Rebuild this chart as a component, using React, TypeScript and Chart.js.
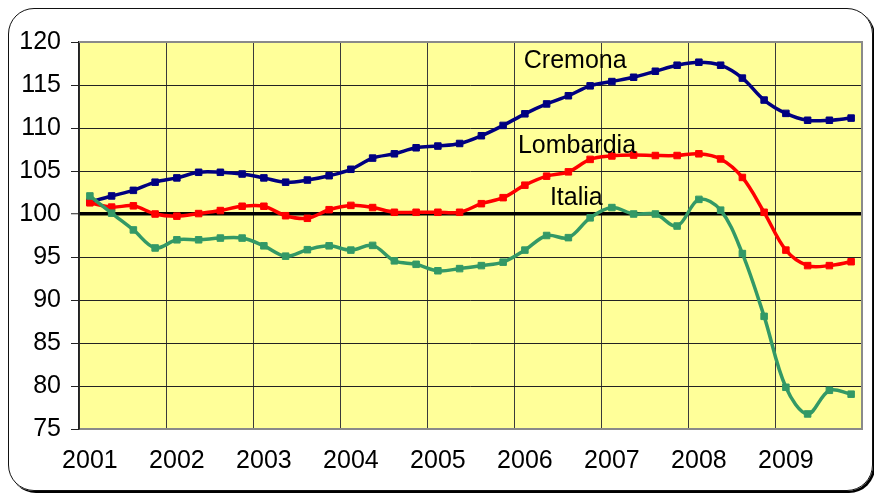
import React, { useEffect, useRef } from 'react';
import { Chart, registerables } from 'chart.js';

Chart.register(...registerables);

// ---- data ----
const years = ['2001', '2002', '2003', '2004', '2005', '2006', '2007', '2008', '2009'];
const quarters = ['T1', 'T2', 'T3', 'T4'];
const categories = years.flatMap((y) => quarters.map((q) => `${y} ${q}`));

const cremona = [
  101.4, 102.1, 102.75, 103.7, 104.2, 104.85, 104.85, 104.65, 104.2, 103.7, 103.95, 104.45,
  105.2, 106.5, 107.0, 107.7, 107.9, 108.2, 109.1, 110.3, 111.65, 112.8, 113.75, 114.9,
  115.4, 115.9, 116.6, 117.3, 117.65, 117.3, 115.8, 113.25, 111.7, 110.9, 110.9, 111.15,
];
const lombardia = [
  101.3, 100.8, 100.95, 100.0, 99.75, 100.05, 100.4, 100.9, 100.9, 99.8, 99.5, 100.5,
  101.0, 100.75, 100.2, 100.2, 100.2, 100.2, 101.2, 101.9, 103.35, 104.4, 104.9, 106.35,
  106.75, 106.85, 106.8, 106.8, 107.0, 106.4, 104.25, 100.2, 95.8, 94.0, 94.0, 94.45,
];
const italia = [
  102.1, 100.1, 98.15, 96.05, 97.0, 97.0, 97.2, 97.2, 96.3, 95.1, 95.85, 96.3,
  95.8, 96.35, 94.55, 94.15, 93.4, 93.65, 94.0, 94.4, 95.8, 97.5, 97.25, 99.55,
  100.75, 100.0, 100.0, 98.6, 101.7, 100.45, 95.4, 88.1, 79.85, 76.75, 79.5, 79.05,
];

const yMin = 75;
const yMax = 120;
const yStep = 5;
const baseline = 100;

// series name labels, anchored in data units (category index, value)
const seriesLabels = [
  { text: 'Cremona', index: 19.95, value: 116.95 },
  { text: 'Lombardia', index: 19.68, value: 107.1 },
  { text: 'Italia', index: 21.15, value: 101.0 },
];

const FONT = "'Liberation Sans', Arial, sans-serif";

const decor = {
  id: 'decor',
  beforeDraw(chart: any) {
    const { ctx, chartArea: a } = chart;
    ctx.save();
    ctx.fillStyle = '#FFFF99';
    ctx.fillRect(a.left, a.top, a.right - a.left, a.bottom - a.top);
    ctx.restore();
  },
  beforeDatasetsDraw(chart: any) {
    const { ctx, chartArea: a } = chart;
    ctx.save();
    ctx.strokeStyle = '#8a8a8a';
    ctx.lineWidth = 2;
    ctx.beginPath();
    ctx.moveTo(a.left, a.top);
    ctx.lineTo(a.right, a.top);
    ctx.lineTo(a.right, a.bottom);
    ctx.lineTo(a.left + 1, a.bottom);
    ctx.stroke();
    ctx.restore();
  },
  afterDatasetsDraw(chart: any) {
    const { ctx } = chart;
    const xs = chart.scales.x;
    const ys = chart.scales.y;
    ctx.save();
    ctx.fillStyle = '#000';
    ctx.font = `25px ${FONT}`;
    ctx.textAlign = 'left';
    ctx.textBaseline = 'alphabetic';
    for (const l of seriesLabels) {
      ctx.fillText(l.text, xs.getPixelForValue(l.index), ys.getPixelForValue(l.value));
    }
    ctx.restore();
  },
};

export default function App() {
  const ref = useRef<HTMLCanvasElement | null>(null);

  useEffect(() => {
    document.body.style.margin = '0';
    const canvas = ref.current;
    if (!canvas) return;
    const mk = (label: string, data: number[], color: string, order: number) => ({
      label,
      data,
      borderColor: color,
      backgroundColor: color,
      borderWidth: 3.5,
      pointStyle: 'rect',
      pointRadius: 4.6,
      pointBorderWidth: 1,
      pointBorderColor: color,
      pointBackgroundColor: color,
      tension: 0.35,
      fill: false,
      order,
    });
    const chart = new Chart(canvas, {
      type: 'line',
      data: {
        labels: categories,
        datasets: [
          mk('Cremona', cremona, '#000080', 2),
          mk('Lombardia', lombardia, '#FF0000', 1),
          mk('Italia', italia, '#339966', 0),
        ],
      },
      options: {
        responsive: false,
        animation: false,
        devicePixelRatio: 1,
        layout: { padding: { left: 0, top: 42, right: 12, bottom: 0 } },
        plugins: { legend: { display: false }, tooltip: { enabled: false } },
        events: [],
        scales: {
          x: {
            type: 'category',
            offset: true,
            afterFit: (s: any) => {
              s.height = 64;
            },
            grid: {
              offset: true,
              drawTicks: false,
              lineWidth: 1,
              color: (c: any) => (c.index % 4 === 0 ? '#3a3a3a' : 'rgba(0,0,0,0)'),
            },
            border: { display: false },
            ticks: {
              autoSkip: false,
              maxRotation: 0,
              minRotation: 0,
              padding: 17,
              color: '#000',
              font: { family: FONT, size: 25 },
              callback: (_v: any, i: number) => (i % 4 === 0 ? years[i / 4] : ''),
            },
          },
          y: {
            min: yMin,
            max: yMax,
            afterFit: (s: any) => {
              s.width = 79;
            },
            grid: {
              drawTicks: true,
              tickLength: 8,
              tickColor: '#222',
              tickWidth: 1,
              color: (c: any) => (c.tick && c.tick.value === baseline ? '#000' : '#222'),
              lineWidth: (c: any) => (c.tick && c.tick.value === baseline ? 3.5 : 1),
            },
            border: { display: true, color: '#222', width: 1.5 },
            ticks: {
              stepSize: yStep,
              padding: 10,
              color: '#000',
              font: { family: FONT, size: 25 },
            },
          },
        },
      },
      plugins: [decor],
    } as any);
    return () => chart.destroy();
  }, []);

  return (
    <div style={{ position: 'relative', width: 874, height: 493, overflow: 'hidden', background: '#fff' }}>
      <div
        style={{
          position: 'absolute',
          left: 8,
          top: 8,
          width: 865,
          height: 483,
          boxSizing: 'border-box',
          border: '1.5px solid #111',
          borderRadius: 26,
          boxShadow: '2px 2px 0 0 #000',
        }}
      />
      <canvas
        ref={ref}
        width={874}
        height={493}
        style={{ position: 'absolute', left: 0, top: 0, display: 'block' }}
      />
    </div>
  );
}
